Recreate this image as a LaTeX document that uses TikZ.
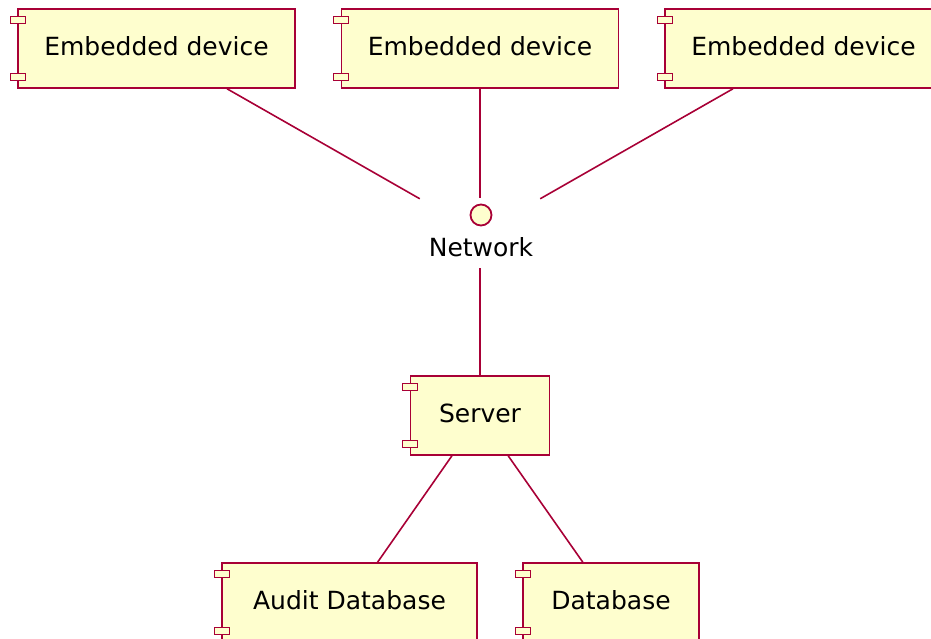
\documentclass[tikz,border=0pt]{standalone}
\usepackage{fontspec}
\setmainfont{DejaVu Sans}
\usetikzlibrary{positioning}
\definecolor{umlRed}{HTML}{A80036}
\definecolor{umlYellow}{HTML}{FEFECE}

\begin{document}
\begin{tikzpicture}[x=1pt,y=-1pt,
	Edge/.style={-,umlRed,line width=1.6pt},
	CompNode/.style={rectangle,fill=umlYellow,draw=umlRed,line width=1.6pt,font=\fontsize{25}{30}\selectfont,minimum height=79pt,inner sep=0pt,text depth=5pt},
	Port/.style={fill=umlYellow,draw=umlRed,line width=1.2pt},
	IfaceDot/.style={circle,fill=umlYellow,draw=umlRed,line width=1.8pt,minimum size=21pt,inner sep=0pt},
]
	\clip (0,0) rectangle (931,638);
	\node[CompNode,minimum width=277pt] (D1) at (156.5,48.5){Embedded device};
	\node[CompNode,minimum width=277pt] (D2) at (480,48.5){Embedded device};
	\node[CompNode,minimum width=277pt] (D3) at (803.5,48.5){Embedded device};
	
	\node[minimum width=120pt,minimum height=70pt] (N) at (480,233){};
	\node[IfaceDot] (Ndot) at (481,215){};
	\node[font=\fontsize{25}{30}\selectfont] (Nlabel) at (481,247){Network};
	
	\node[CompNode,minimum width=139pt] (S) at (480,415.5){Server};
	\node[CompNode,minimum width=255pt] (AD) at (349.5,602.5){Audit Database};
	\node[CompNode,minimum width=176pt] (DB) at (611,602.5){Database};
	
	\foreach \c in {D1,D2,D3,S,AD,DB}{
		\draw[Port] ([shift={(-7,8)}]\c.north west) rectangle ++(15,7);
		\draw[Port] ([shift={(-7,-15)}]\c.south west) rectangle ++(15,7);
	}
	
	\path[Edge]
	(D1) edge (N)
	(D2) edge (N)
	(D3) edge (N)
	(N) edge (S)
	(S) edge (AD)
	(S) edge (DB)
	;
\end{tikzpicture}
\end{document}
